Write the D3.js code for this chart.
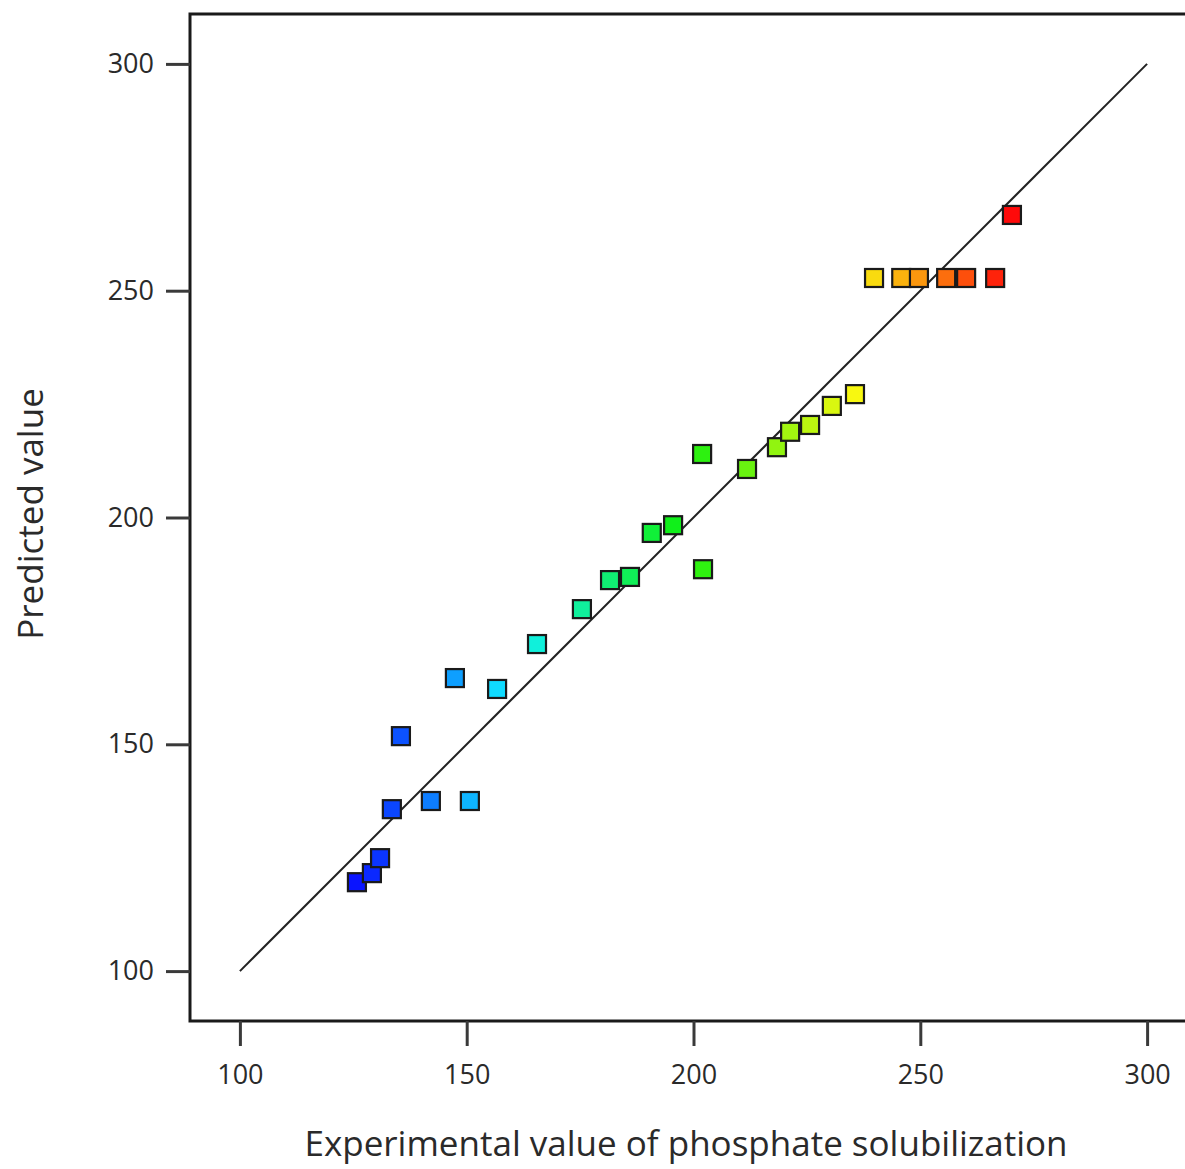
<!DOCTYPE html>
<html lang="en">
<head>
<meta charset="utf-8">
<title>Predicted vs Experimental</title>
<script src="https://d3js.org/d3.v7.min.js"></script>
<style>
  body { margin: 0; background: #fff; }
  svg { display: block; font-family: "Open Sans", "Noto Sans", sans-serif; }
  .tick text { fill: #2a2a2a; }
</style>
</head>
<body>
<div id="chart"></div>
<script>
var experimental = [125.8, 129.1, 130.9, 133.5, 135.5, 142.1, 150.7, 147.4, 156.7, 165.5,
                    175.4, 181.6, 186.0, 190.8, 195.5, 201.9, 202.1, 211.8, 218.4, 221.3,
                    225.7, 230.5, 235.6, 239.8, 245.8, 249.7, 255.7, 260.1, 266.5, 270.2];
var predicted    = [119.6, 121.6, 124.9, 135.7, 151.8, 137.5, 137.5, 164.6, 162.2, 172.1,
                    179.8, 186.2, 186.9, 196.6, 198.3, 214.0, 188.6, 210.7, 215.5, 218.9,
                    220.4, 224.6, 227.2, 252.8, 252.8, 252.8, 252.8, 252.8, 252.8, 266.7];
var tickValues = [100, 150, 200, 250, 300];

var w = 1185, h = 1169;

var svg = d3.select("#chart").append("svg")
  .attr("width", w)
  .attr("height", h);

var x = d3.scaleLinear().domain([89, 311]).range([190, 1197]);
var y = d3.scaleLinear().domain([89, 311]).range([1021, 14]);

// rainbow colouring by experimental value
var color = d3.scaleLinear()
  .domain([125.8, 160, 197, 235.6, 270.2])
  .range(["#0a14ff", "#10f0ff", "#10f010", "#f8f810", "#ff0a0a"]);

// frame
svg.append("rect")
  .attr("x", x(89))
  .attr("y", y(311))
  .attr("width", x(311) - x(89))
  .attr("height", y(89) - y(311))
  .attr("fill", "none")
  .attr("stroke", "#1a1a1a")
  .attr("stroke-width", 3);

// axes
var xAxis = svg.append("g")
  .attr("transform", "translate(0," + y(89) + ")")
  .call(d3.axisBottom(x).tickValues(tickValues).tickSize(25).tickPadding(19));
var yAxis = svg.append("g")
  .attr("transform", "translate(" + x(89) + ",0)")
  .call(d3.axisLeft(y).tickValues(tickValues).tickSize(24).tickPadding(12));

[xAxis, yAxis].forEach(function(a) {
  a.select(".domain").remove();
  a.selectAll(".tick line").attr("stroke", "#3a3a3a").attr("stroke-width", 3);
  a.selectAll(".tick text")
    .attr("font-family", "'Open Sans', 'Noto Sans', sans-serif")
    .attr("font-size", "27px");
});

// 1:1 reference line
svg.append("line")
  .attr("x1", x(100)).attr("y1", y(100))
  .attr("x2", x(300)).attr("y2", y(300))
  .attr("stroke", "#222")
  .attr("stroke-width", 2);

// points
var size = 18;
svg.selectAll("rect.pt")
  .data(d3.range(experimental.length))
  .enter()
  .append("rect")
  .attr("class", "pt")
  .attr("x", function(i) { return x(experimental[i]) - size / 2; })
  .attr("y", function(i) { return y(predicted[i]) - size / 2; })
  .attr("width", size)
  .attr("height", size)
  .attr("fill", function(i) { return color(experimental[i]); })
  .attr("stroke", "#1a1a1a")
  .attr("stroke-width", 2.2);

// axis titles
svg.append("text")
  .attr("x", 686)
  .attr("y", 1156)
  .attr("text-anchor", "middle")
  .attr("font-size", "35px")
  .attr("fill", "#2a2a2a")
  .text("Experimental value of phosphate solubilization");

svg.append("text")
  .attr("transform", "translate(43,514) rotate(-90)")
  .attr("text-anchor", "middle")
  .attr("font-size", "35px")
  .attr("fill", "#2a2a2a")
  .text("Predicted value");
</script>
</body>
</html>
